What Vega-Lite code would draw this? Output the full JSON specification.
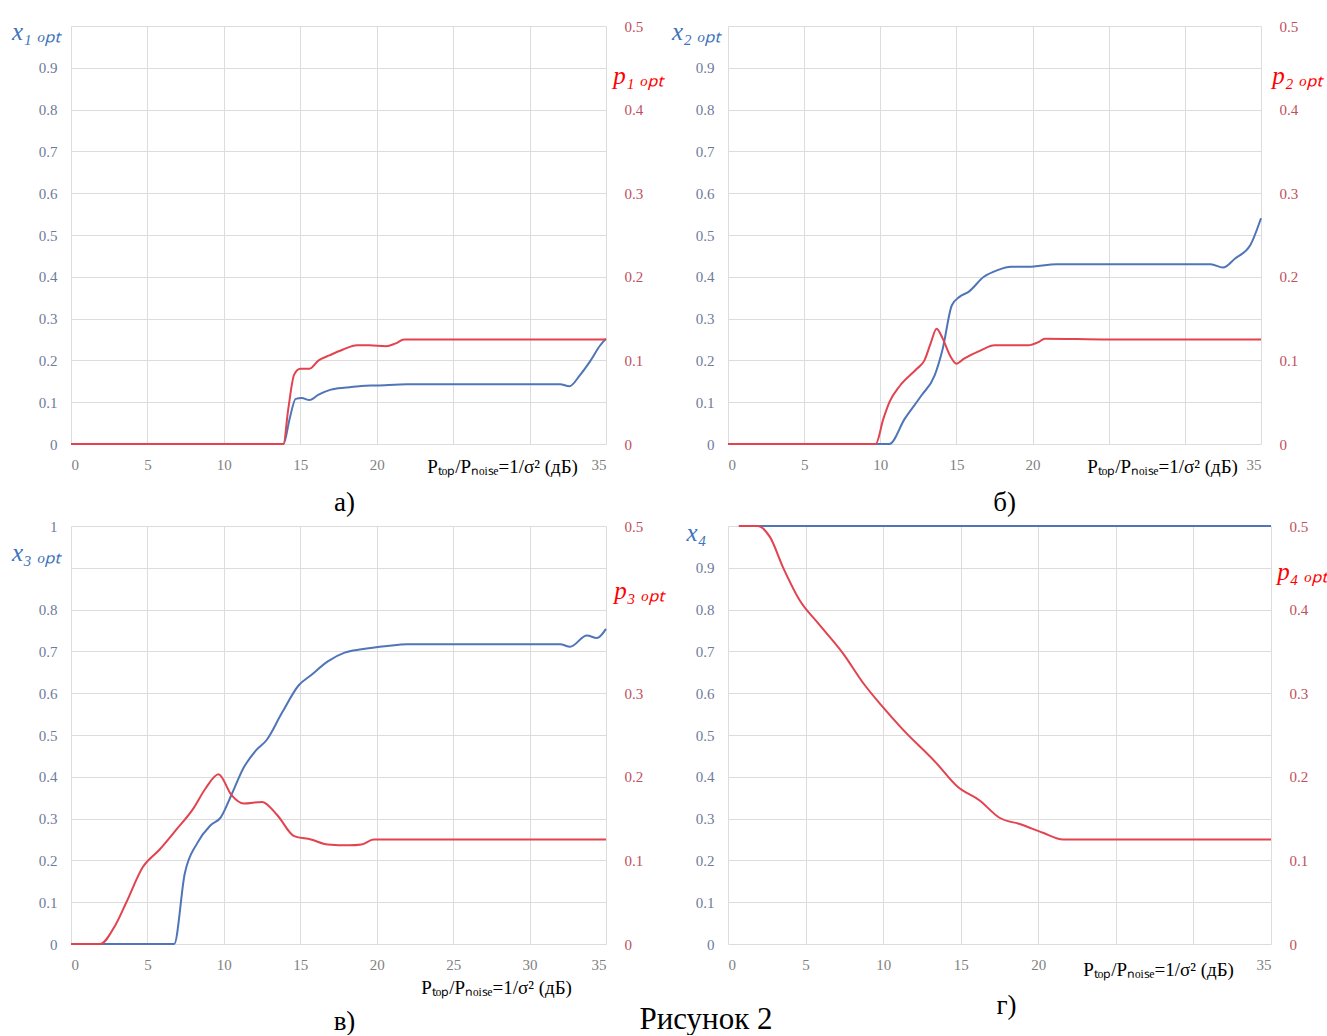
{
"$schema": "https://vega.github.io/schema/vega-lite/v6.json",
"background": "white",
"padding": {"left": 11, "top": 19, "right": 0, "bottom": 0},
"config": {
  "view": {"stroke": null},
  "font": "Liberation Serif",
  "axis": {"grid": true, "gridColor": "#dcdcdc", "gridWidth": 1, "domain": false, "ticks": false, "labelFont": "Liberation Serif", "labelFontSize": 15, "titleFont": "Liberation Serif", "titleFontWeight": "normal"},
  "title": {"font": "Liberation Serif", "fontWeight": "normal", "color": "black"}
},
"datasets": {
  "a": [
    {"t": 0, "v": 0, "s": "x"}, {"t": 13.9, "v": 0, "s": "x"}, {"t": 14.3, "v": 0.06, "s": "x"}, {"t": 14.7, "v": 0.108, "s": "x"}, {"t": 15.1, "v": 0.11, "s": "x"}, {"t": 15.6, "v": 0.105, "s": "x"}, {"t": 16.2, "v": 0.118, "s": "x"}, {"t": 17, "v": 0.13, "s": "x"}, {"t": 18, "v": 0.135, "s": "x"}, {"t": 19, "v": 0.139, "s": "x"}, {"t": 20, "v": 0.14, "s": "x"}, {"t": 22, "v": 0.143, "s": "x"}, {"t": 25, "v": 0.143, "s": "x"}, {"t": 30, "v": 0.143, "s": "x"}, {"t": 32, "v": 0.143, "s": "x"}, {"t": 32.6, "v": 0.138, "s": "x"}, {"t": 33.3, "v": 0.165, "s": "x"}, {"t": 34, "v": 0.2, "s": "x"}, {"t": 34.6, "v": 0.235, "s": "x"}, {"t": 35, "v": 0.252, "s": "x"},
    {"t": 0, "v": 0, "s": "p"}, {"t": 13.9, "v": 0, "s": "p"}, {"t": 14.2, "v": 0.04, "s": "p"}, {"t": 14.6, "v": 0.083, "s": "p"}, {"t": 15, "v": 0.09, "s": "p"}, {"t": 15.6, "v": 0.09, "s": "p"}, {"t": 16.2, "v": 0.1, "s": "p"}, {"t": 16.9, "v": 0.106, "s": "p"}, {"t": 17.8, "v": 0.113, "s": "p"}, {"t": 18.7, "v": 0.118, "s": "p"}, {"t": 19.5, "v": 0.118, "s": "p"}, {"t": 20.6, "v": 0.117, "s": "p"}, {"t": 21.2, "v": 0.12, "s": "p"}, {"t": 21.8, "v": 0.125, "s": "p"}, {"t": 25, "v": 0.125, "s": "p"}, {"t": 35, "v": 0.125, "s": "p"}
  ],
  "b": [
    {"t": 0, "v": 0, "s": "x"}, {"t": 10.6, "v": 0, "s": "x"}, {"t": 11.6, "v": 0.06, "s": "x"}, {"t": 12.7, "v": 0.116, "s": "x"}, {"t": 13.57, "v": 0.164, "s": "x"}, {"t": 14.1, "v": 0.228, "s": "x"}, {"t": 14.7, "v": 0.332, "s": "x"}, {"t": 15.2, "v": 0.352, "s": "x"}, {"t": 15.8, "v": 0.364, "s": "x"}, {"t": 16.8, "v": 0.4, "s": "x"}, {"t": 17.7, "v": 0.416, "s": "x"}, {"t": 18.6, "v": 0.424, "s": "x"}, {"t": 19.7, "v": 0.424, "s": "x"}, {"t": 21.6, "v": 0.43, "s": "x"}, {"t": 25, "v": 0.43, "s": "x"}, {"t": 31.7, "v": 0.43, "s": "x"}, {"t": 32.5, "v": 0.422, "s": "x"}, {"t": 33.3, "v": 0.444, "s": "x"}, {"t": 34.3, "v": 0.476, "s": "x"}, {"t": 35, "v": 0.54, "s": "x"},
    {"t": 0, "v": 0, "s": "p"}, {"t": 9.7, "v": 0, "s": "p"}, {"t": 10.2, "v": 0.03, "s": "p"}, {"t": 10.6, "v": 0.05, "s": "p"}, {"t": 11.3, "v": 0.07, "s": "p"}, {"t": 12.4, "v": 0.09, "s": "p"}, {"t": 12.9, "v": 0.1, "s": "p"}, {"t": 13.3, "v": 0.12, "s": "p"}, {"t": 13.7, "v": 0.138, "s": "p"}, {"t": 14.1, "v": 0.126, "s": "p"}, {"t": 14.6, "v": 0.105, "s": "p"}, {"t": 15, "v": 0.096, "s": "p"}, {"t": 15.5, "v": 0.102, "s": "p"}, {"t": 16.6, "v": 0.112, "s": "p"}, {"t": 17.5, "v": 0.118, "s": "p"}, {"t": 18.3, "v": 0.118, "s": "p"}, {"t": 19.7, "v": 0.118, "s": "p"}, {"t": 20.4, "v": 0.122, "s": "p"}, {"t": 20.8, "v": 0.126, "s": "p"}, {"t": 25, "v": 0.125, "s": "p"}, {"t": 35, "v": 0.125, "s": "p"}
  ],
  "c": [
    {"t": 0, "v": 0, "s": "x"}, {"t": 6.75, "v": 0, "s": "x"}, {"t": 7.44, "v": 0.168, "s": "x"}, {"t": 8.27, "v": 0.242, "s": "x"}, {"t": 9.1, "v": 0.283, "s": "x"}, {"t": 9.8, "v": 0.303, "s": "x"}, {"t": 10.5, "v": 0.357, "s": "x"}, {"t": 11.3, "v": 0.422, "s": "x"}, {"t": 12.1, "v": 0.463, "s": "x"}, {"t": 12.8, "v": 0.488, "s": "x"}, {"t": 13.8, "v": 0.553, "s": "x"}, {"t": 14.9, "v": 0.619, "s": "x"}, {"t": 15.7, "v": 0.643, "s": "x"}, {"t": 16.8, "v": 0.676, "s": "x"}, {"t": 17.9, "v": 0.697, "s": "x"}, {"t": 19, "v": 0.705, "s": "x"}, {"t": 20.7, "v": 0.713, "s": "x"}, {"t": 22, "v": 0.717, "s": "x"}, {"t": 28, "v": 0.717, "s": "x"}, {"t": 32, "v": 0.717, "s": "x"}, {"t": 32.65, "v": 0.711, "s": "x"}, {"t": 33.75, "v": 0.738, "s": "x"}, {"t": 34.4, "v": 0.732, "s": "x"}, {"t": 35, "v": 0.754, "s": "x"},
    {"t": 0, "v": 0, "s": "p"}, {"t": 1.9, "v": 0, "s": "p"}, {"t": 2.9, "v": 0.0225, "s": "p"}, {"t": 3.6, "v": 0.049, "s": "p"}, {"t": 4.7, "v": 0.092, "s": "p"}, {"t": 5.8, "v": 0.113, "s": "p"}, {"t": 6.9, "v": 0.137, "s": "p"}, {"t": 8.0, "v": 0.162, "s": "p"}, {"t": 8.8, "v": 0.186, "s": "p"}, {"t": 9.65, "v": 0.203, "s": "p"}, {"t": 10.5, "v": 0.178, "s": "p"}, {"t": 11.3, "v": 0.168, "s": "p"}, {"t": 12.5, "v": 0.17, "s": "p"}, {"t": 13.5, "v": 0.154, "s": "p"}, {"t": 14.6, "v": 0.129, "s": "p"}, {"t": 15.7, "v": 0.125, "s": "p"}, {"t": 16.8, "v": 0.119, "s": "p"}, {"t": 18.2, "v": 0.118, "s": "p"}, {"t": 19.0, "v": 0.119, "s": "p"}, {"t": 19.8, "v": 0.125, "s": "p"}, {"t": 25, "v": 0.125, "s": "p"}, {"t": 35, "v": 0.125, "s": "p"}
  ],
  "d": [
    {"t": 0.7, "v": 1, "s": "x"}, {"t": 35, "v": 1, "s": "x"},
    {"t": 0.7, "v": 0.5, "s": "p"}, {"t": 1.9, "v": 0.5, "s": "p"}, {"t": 2.7, "v": 0.487, "s": "p"}, {"t": 3.56, "v": 0.45, "s": "p"}, {"t": 4.66, "v": 0.41, "s": "p"}, {"t": 5.75, "v": 0.385, "s": "p"}, {"t": 7.4, "v": 0.348, "s": "p"}, {"t": 8.76, "v": 0.311, "s": "p"}, {"t": 9.86, "v": 0.286, "s": "p"}, {"t": 11.2, "v": 0.258, "s": "p"}, {"t": 13.4, "v": 0.217, "s": "p"}, {"t": 14.8, "v": 0.188, "s": "p"}, {"t": 16.2, "v": 0.172, "s": "p"}, {"t": 17.5, "v": 0.151, "s": "p"}, {"t": 18.9, "v": 0.143, "s": "p"}, {"t": 20.3, "v": 0.133, "s": "p"}, {"t": 21.6, "v": 0.125, "s": "p"}, {"t": 25, "v": 0.125, "s": "p"}, {"t": 35, "v": 0.125, "s": "p"}
  ]
},
"title": {"text": "Рисунок 2", "orient": "bottom", "anchor": "start", "fontSize": 31, "offset": -30, "dx": 628},
"bounds": "flush",
"columns": 2,
"spacing": {"row": 82, "column": 122},
"concat": [
    {
      "width": 535, "height": 418,
      "data": {"name": "a"},
      "title": {"text": "а)", "orient": "bottom", "fontSize": 27, "offset": 14, "dx": 6},
      "encoding": {"x": {"field": "t", "type": "quantitative", "scale": {"domain": [0, 35], "nice": false}, "axis": {"values": [0, 5, 10, 15, 20, 25, 30, 35], "labelExpr": "datum.value == 25 || datum.value == 30 ? '' : datum.label", "labelColor": "#7f7f7f", "labelPadding": 13, "title": "Pₜₒₚ/Pₙₒᵢₛₑ=1/σ² (дБ)", "titleFontSize": 19, "titleColor": "black", "titleX": 431, "titleY": 22, "titleBaseline": "middle", "titleAlign": "center"}}},
      "layer": [
        {"transform": [{"filter": "datum.s == 'x'"}], "mark": {"type": "line", "interpolate": "monotone", "color": "#4f75b8", "strokeWidth": 2},
         "encoding": {"y": {"field": "v", "type": "quantitative", "scale": {"domain": [0, 1], "nice": false}, "axis": {"orient": "left", "values": [0, 0.1, 0.2, 0.3, 0.4, 0.5, 0.6, 0.7, 0.8, 0.9, 1], "format": "~g", "labelExpr": "datum.value == 1 ? '' : datum.label", "labelColor": "#6f7a9a", "labelPadding": 14, "title": "x₁ ₒₚₜ", "titleAngle": 0, "titleFontSize": 25, "titleFontStyle": "italic", "titleColor": "#3f74bb", "titleX": -35, "titleY": 5, "titleAlign": "center", "titleBaseline": "middle"}}}},
        {"transform": [{"filter": "datum.s == 'p'"}], "mark": {"type": "line", "interpolate": "monotone", "color": "#e2434f", "strokeWidth": 2},
         "encoding": {"y": {"field": "v", "type": "quantitative", "scale": {"domain": [0, 0.5], "nice": false}, "axis": {"orient": "right", "grid": false, "values": [0, 0.1, 0.2, 0.3, 0.4, 0.5], "format": "~g", "labelColor": "#c0505c", "labelPadding": 18, "title": "p₁ ₒₚₜ", "titleAngle": 0, "titleFontSize": 25, "titleFontStyle": "italic", "titleColor": "#ff0000", "titleX": 32, "titleY": 49, "titleAlign": "center", "titleBaseline": "middle"}}}}
      ],
      "resolve": {"scale": {"y": "independent"}}
    },
    {
      "width": 533, "height": 418,
      "data": {"name": "b"},
      "title": {"text": "б)", "orient": "bottom", "fontSize": 27, "offset": 14, "dx": 10},
      "encoding": {"x": {"field": "t", "type": "quantitative", "scale": {"domain": [0, 35], "nice": false}, "axis": {"values": [0, 5, 10, 15, 20, 25, 30, 35], "labelExpr": "datum.value == 25 || datum.value == 30 ? '' : datum.label", "labelColor": "#7f7f7f", "labelPadding": 13, "title": "Pₜₒₚ/Pₙₒᵢₛₑ=1/σ² (дБ)", "titleFontSize": 19, "titleColor": "black", "titleX": 434, "titleY": 22, "titleBaseline": "middle", "titleAlign": "center"}}},
      "layer": [
        {"transform": [{"filter": "datum.s == 'x'"}], "mark": {"type": "line", "interpolate": "monotone", "color": "#4f75b8", "strokeWidth": 2},
         "encoding": {"y": {"field": "v", "type": "quantitative", "scale": {"domain": [0, 1], "nice": false}, "axis": {"orient": "left", "values": [0, 0.1, 0.2, 0.3, 0.4, 0.5, 0.6, 0.7, 0.8, 0.9, 1], "format": "~g", "labelExpr": "datum.value == 1 ? '' : datum.label", "labelColor": "#6f7a9a", "labelPadding": 14, "title": "x₂ ₒₚₜ", "titleAngle": 0, "titleFontSize": 25, "titleFontStyle": "italic", "titleColor": "#3f74bb", "titleX": -32, "titleY": 5, "titleAlign": "center", "titleBaseline": "middle"}}}},
        {"transform": [{"filter": "datum.s == 'p'"}], "mark": {"type": "line", "interpolate": "monotone", "color": "#e2434f", "strokeWidth": 2},
         "encoding": {"y": {"field": "v", "type": "quantitative", "scale": {"domain": [0, 0.5], "nice": false}, "axis": {"orient": "right", "grid": false, "values": [0, 0.1, 0.2, 0.3, 0.4, 0.5], "format": "~g", "labelColor": "#c0505c", "labelPadding": 18, "title": "p₂ ₒₚₜ", "titleAngle": 0, "titleFontSize": 25, "titleFontStyle": "italic", "titleColor": "#ff0000", "titleX": 36, "titleY": 49, "titleAlign": "center", "titleBaseline": "middle"}}}}
      ],
      "resolve": {"scale": {"y": "independent"}}
    },
    {
      "width": 535, "height": 418,
      "data": {"name": "c"},
      "title": {"text": "в)", "orient": "bottom", "fontSize": 27, "offset": 12, "dx": 6},
      "encoding": {"x": {"field": "t", "type": "quantitative", "scale": {"domain": [0, 35], "nice": false}, "axis": {"values": [0, 5, 10, 15, 20, 25, 30, 35], "labelColor": "#7f7f7f", "labelPadding": 13, "title": "Pₜₒₚ/Pₙₒᵢₛₑ=1/σ² (дБ)", "titleFontSize": 19, "titleColor": "black", "titleX": 425, "titleY": 43, "titleBaseline": "middle", "titleAlign": "center"}}},
      "layer": [
        {"transform": [{"filter": "datum.s == 'x'"}], "mark": {"type": "line", "interpolate": "monotone", "color": "#4f75b8", "strokeWidth": 2},
         "encoding": {"y": {"field": "v", "type": "quantitative", "scale": {"domain": [0, 1], "nice": false}, "axis": {"orient": "left", "values": [0, 0.1, 0.2, 0.3, 0.4, 0.5, 0.6, 0.7, 0.8, 0.9, 1], "format": "~g", "labelExpr": "datum.value == 0.9 ? '' : datum.label", "labelColor": "#6f7a9a", "labelPadding": 14, "title": "x₃ ₒₚₜ", "titleAngle": 0, "titleFontSize": 25, "titleFontStyle": "italic", "titleColor": "#3f74bb", "titleX": -35, "titleY": 26, "titleAlign": "center", "titleBaseline": "middle"}}}},
        {"transform": [{"filter": "datum.s == 'p'"}], "mark": {"type": "line", "interpolate": "monotone", "color": "#e2434f", "strokeWidth": 2},
         "encoding": {"y": {"field": "v", "type": "quantitative", "scale": {"domain": [0, 0.5], "nice": false}, "axis": {"orient": "right", "grid": false, "values": [0, 0.1, 0.2, 0.3, 0.4, 0.5], "format": "~g", "labelExpr": "datum.value == 0.4 ? '' : datum.label", "labelColor": "#c0505c", "labelPadding": 18, "title": "p₃ ₒₚₜ", "titleAngle": 0, "titleFontSize": 25, "titleFontStyle": "italic", "titleColor": "#ff0000", "titleX": 33, "titleY": 64, "titleAlign": "center", "titleBaseline": "middle"}}}}
      ],
      "resolve": {"scale": {"y": "independent"}}
    },
    {
      "width": 543, "height": 418,
      "data": {"name": "d"},
      "title": {"text": "г)", "orient": "bottom", "fontSize": 27, "offset": 14, "dx": 7},
      "encoding": {"x": {"field": "t", "type": "quantitative", "scale": {"domain": [0, 35], "nice": false}, "axis": {"values": [0, 5, 10, 15, 20, 25, 30, 35], "labelExpr": "datum.value == 25 || datum.value == 30 ? '' : datum.label", "labelColor": "#7f7f7f", "labelPadding": 13, "title": "Pₜₒₚ/Pₙₒᵢₛₑ=1/σ² (дБ)", "titleFontSize": 19, "titleColor": "black", "titleX": 430, "titleY": 25, "titleBaseline": "middle", "titleAlign": "center"}}},
      "layer": [
        {"transform": [{"filter": "datum.s == 'x'"}], "mark": {"type": "line", "interpolate": "monotone", "color": "#4f75b8", "strokeWidth": 2},
         "encoding": {"y": {"field": "v", "type": "quantitative", "scale": {"domain": [0, 1], "nice": false}, "axis": {"orient": "left", "values": [0, 0.1, 0.2, 0.3, 0.4, 0.5, 0.6, 0.7, 0.8, 0.9, 1], "format": "~g", "labelExpr": "datum.value == 1 ? '' : datum.label", "labelColor": "#6f7a9a", "labelPadding": 14, "title": "x₄", "titleAngle": 0, "titleFontSize": 25, "titleFontStyle": "italic", "titleColor": "#3f74bb", "titleX": -32, "titleY": 6, "titleAlign": "center", "titleBaseline": "middle"}}}},
        {"transform": [{"filter": "datum.s == 'p'"}], "mark": {"type": "line", "interpolate": "monotone", "color": "#e2434f", "strokeWidth": 2},
         "encoding": {"y": {"field": "v", "type": "quantitative", "scale": {"domain": [0, 0.5], "nice": false}, "axis": {"orient": "right", "grid": false, "values": [0, 0.1, 0.2, 0.3, 0.4, 0.5], "format": "~g", "labelColor": "#c0505c", "labelPadding": 18, "title": "p₄ ₒₚₜ", "titleAngle": 0, "titleFontSize": 25, "titleFontStyle": "italic", "titleColor": "#ff0000", "titleX": 31, "titleY": 45, "titleAlign": "center", "titleBaseline": "middle"}}}}
      ],
      "resolve": {"scale": {"y": "independent"}}
    }
]
}
